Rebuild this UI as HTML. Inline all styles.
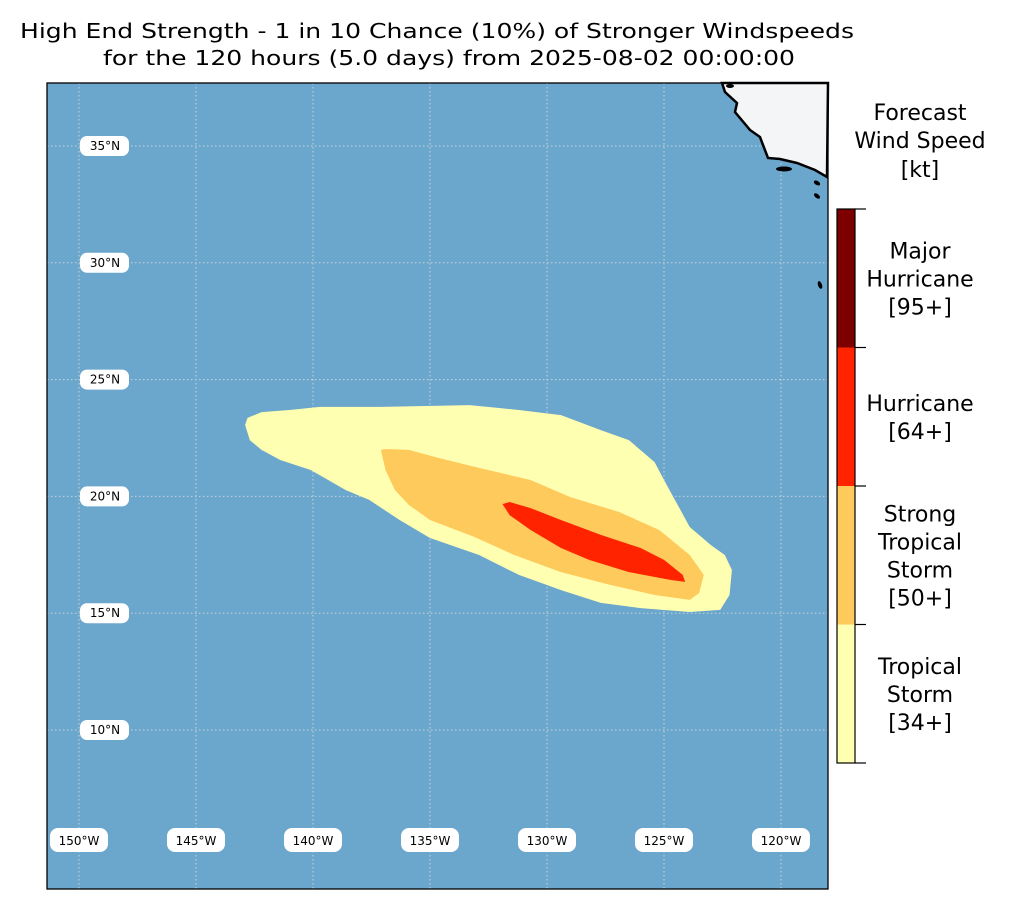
<!DOCTYPE html>
<html><head><meta charset="utf-8"><style>
body{margin:0;background:#fff;width:1015px;height:910px;overflow:hidden;font-family:"DejaVu Sans","Liberation Sans",sans-serif}
</style></head><body>
<svg id="chart" width="1015" height="910" xmlns="http://www.w3.org/2000/svg" font-family="DejaVu Sans, Liberation Sans, sans-serif">
<text x="437" y="38" text-anchor="middle" font-size="20" textLength="834" lengthAdjust="spacingAndGlyphs">High End Strength - 1 in 10 Chance (10%) of Stronger Windspeeds</text>
<text x="449" y="65" text-anchor="middle" font-size="20" textLength="692" lengthAdjust="spacingAndGlyphs">for the 120 hours (5.0 days) from 2025-08-02 00:00:00</text>
<g id="map">
<rect x="47" y="83" width="781" height="806" fill="#6ba6cc"/>
<g id="grid"></g>
<g id="swath"></g>
<path d="M722,83 L725,92 L737,103 L735,112 L750,130 L760,137 L763,145 L768,158 L780,159 L797,163 L815,170 L827,177 L828,83 Z" fill="#f4f5f7" stroke="#000" stroke-width="2.5"/>
<g fill="#000">
<ellipse cx="784" cy="169" rx="8" ry="2.5"/><ellipse cx="730" cy="86" rx="4" ry="2"/>
<ellipse cx="817" cy="183" rx="3.5" ry="2" transform="rotate(30 817 183)"/>
<ellipse cx="817" cy="196" rx="3.5" ry="2" transform="rotate(40 817 196)"/>
<ellipse cx="820" cy="285" rx="2" ry="4" transform="rotate(-20 820 285)"/>
</g>
<g id="labels"></g>
<rect x="47" y="83" width="781" height="806" fill="none" stroke="#000" stroke-width="1.3"/>
</g>
<g id="cbar">
<text text-anchor="middle" font-size="22" x="920"><tspan x="920" y="120">Forecast</tspan><tspan x="920" y="148">Wind Speed</tspan><tspan x="920" y="177">[kt]</tspan></text>
</g>
</svg>
<script>
const latTicks=[10,15,20,25,30,35];
const lonTicks=[-150,-145,-140,-135,-130,-125,-120];
const categories=["Tropical Storm [34+]","Strong Tropical Storm [50+]","Hurricane [64+]","Major Hurricane [95+]"];
const catColors=["#ffffb2","#feca5c","#ff2300","#7d0000"];
const catLabels=[["Tropical","Storm","[34+]"],["Strong","Tropical","Storm","[50+]"],["Hurricane","[64+]"],["Major","Hurricane","[95+]"]];
const ts34Lon=[-142.9,-142.8,-142.2,-141.0,-139.7,-137.1,-133.3,-131.2,-129.4,-127.7,-126.5,-125.4,-125.0,-124.3,-123.9,-123.0,-122.4,-122.1,-122.2,-122.6,-123.9,-126.0,-127.7,-129.4,-131.2,-132.9,-135.0,-136.3,-137.6,-138.6,-140.1,-141.4,-142.2,-142.7];
const ts34Lat=[23.06,23.36,23.61,23.70,23.83,23.83,23.91,23.70,23.48,22.84,22.41,21.47,20.70,19.42,18.69,17.92,17.49,16.85,15.78,15.14,15.05,15.22,15.44,15.99,16.64,17.49,18.22,18.99,19.85,20.27,21.13,21.56,21.99,22.41];
const sts50Lon=[-137.1,-136.9,-135.9,-134.6,-132.9,-130.7,-129.0,-126.9,-125.2,-123.9,-123.3,-123.5,-123.9,-125.4,-127.3,-129.4,-131.4,-133.1,-135.0,-135.9,-136.5,-136.9];
const sts50Lat=[21.99,22.03,21.99,21.64,21.22,20.70,19.97,19.33,18.56,17.49,16.64,15.86,15.57,15.78,16.21,16.76,17.49,18.26,18.99,19.63,20.27,21.13];
const hu64Lon=[-131.9,-131.6,-130.7,-129.4,-127.7,-126.0,-125.0,-124.2,-124.1,-124.7,-126.5,-128.2,-129.4,-130.7,-131.6];
const hu64Lat=[19.67,19.76,19.50,18.99,18.35,17.79,17.28,16.64,16.34,16.42,16.76,17.28,17.79,18.56,19.20];

const NS="http://www.w3.org/2000/svg";
const X0=47,X1=828,Y0=83,Y1=889;
function xScale(lon){return 79+(lon+150)*23.4;}
function yScale(lat){return 146+(35-lat)*23.36;}
function mk(tag,attrs,parent){const e=document.createElementNS(NS,tag);for(const k in attrs)e.setAttribute(k,attrs[k]);parent.appendChild(e);return e;}
const grid=document.getElementById('grid'),lab=document.getElementById('labels'),sw=document.getElementById('swath');
latTicks.forEach(v=>{const y=yScale(v);
 const l=mk('line',{x1:X0,x2:X1,y1:y,y2:y,stroke:'#c8d4dc','stroke-width':1,'stroke-dasharray':'1.5,2.5'},grid);
 
 
 const r=mk('rect',{x:80,y:y-10,width:49,height:20,rx:7,fill:'#fff'},lab);
 
 
 const t=mk('text',{x:105,y:y+4,'text-anchor':'middle','font-size':12},lab);t.textContent=v+'°N';
 
 
});
lonTicks.forEach(v=>{const x=xScale(v);
 const l=mk('line',{x1:x,x2:x,y1:Y0,y2:Y1,stroke:'#c8d4dc','stroke-width':1,'stroke-dasharray':'1.5,2.5'},grid);
 
 
 const r=mk('rect',{x:x-29,y:828,width:58,height:24,rx:8,fill:'#fff'},lab);
 
 
 const t=mk('text',{x:x,y:845,'text-anchor':'middle','font-size':12},lab);t.textContent=Math.abs(v)+'°W';
 
 
});
function poly(lons,lats,color,name){
 const p=mk('polygon',{points:lons.map((v,i)=>xScale(v).toFixed(1)+','+yScale(lats[i]).toFixed(1)).join(' '),fill:color},sw);
 
 
}
poly(ts34Lon,ts34Lat,catColors[0],'swath-tropical-storm');
poly(sts50Lon,sts50Lat,catColors[1],'swath-strong-tropical-storm');
poly(hu64Lon,hu64Lat,catColors[2],'swath-hurricane');
const cb=document.getElementById('cbar');
const cbTop=209,cbBot=763,segH=(cbBot-cbTop)/categories.length;
categories.forEach((c,i)=>{
 const y=cbBot-(i+1)*segH;
 const r=mk('rect',{x:837,y:y,width:18,height:segH,fill:catColors[i]},cb);
 
 
 const tk=mk('line',{x1:855,x2:866,y1:y+segH,y2:y+segH,stroke:'#000','stroke-width':1.2},cb);
 
 
 const lines=catLabels[i],cy=y+segH/2,lh=28;
 const t=mk('text',{'text-anchor':'middle','font-size':22},cb);
 
 
 lines.forEach((s,j)=>{const ts=mk('tspan',{x:920,y:cy-(lines.length-1)*lh/2+j*lh+8},t);ts.textContent=s;});
});
const tk=mk('line',{x1:855,x2:866,y1:cbTop,y2:cbTop,stroke:'#000','stroke-width':1.2},cb);


const fr=mk('rect',{x:837,y:cbTop,width:18,height:cbBot-cbTop,fill:'none',stroke:'#000','stroke-width':1.2},cb);


</script>
</body></html>
